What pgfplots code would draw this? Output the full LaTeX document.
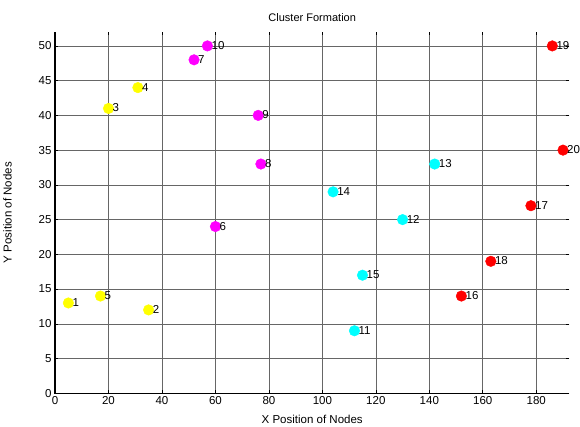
\documentclass[border=0pt]{standalone}
\usepackage{pgfplots}
\pgfplotsset{compat=1.18}
\usepackage{pgfplotstable}
\usepackage{fontspec}
\setmainfont{Liberation Sans}
\definecolor{cY}{RGB}{255,255,0}
\definecolor{cM}{RGB}{255,0,255}
\definecolor{cC}{RGB}{0,255,255}
\definecolor{cR}{RGB}{255,0,0}
\pgfplotstableread{
x y n
5 13 1
35 12 2
20 41 3
31 44 4
17 14 5
}\clA
\pgfplotstableread{
x y n
60 24 6
52 48 7
77 33 8
76 40 9
57 50 10
}\clB
\pgfplotstableread{
x y n
112 9 11
130 25 12
142 33 13
104 29 14
115 17 15
}\clC
\pgfplotstableread{
x y n
152 14 16
178 27 17
163 19 18
186 50 19
190 35 20
}\clD
\begin{document}
\begin{tikzpicture}
\begin{axis}[
  scale only axis,
  width=514pt, height=361pt,
  xmin=0, xmax=192.4, ymin=0, ymax=52,
  xtick={0,20,...,180}, ytick={0,5,...,50},
  tick pos=both, tick align=inside,
  major tick length=3pt,
  tick style={black, line width=0.6pt},
  grid=major,
  major grid style={black!60, line width=0.6pt},
  axis line style={draw=none},
  ticklabel style={font=\fontsize{11.5}{13}\selectfont},
  /pgf/number format/assume math mode=true,
  title={Cluster Formation},
  title style={font=\fontsize{11}{13}\selectfont, yshift=1pt},
  xlabel={X Position of Nodes},
  ylabel={Y Position of Nodes},
  label style={font=\fontsize{11.5}{13}\selectfont},
  xlabel style={yshift=-3pt},
  ylabel style={yshift=20pt},
  only marks,
  mark=*,
  mark size=5.3pt,
  point meta=explicit symbolic,
  nodes near coords,
  nodes near coords style={anchor=west, font=\fontsize{11.5}{13}\selectfont, inner sep=0pt, xshift=4pt, yshift=0.5pt, text=black},
  clip=false,
]
\addplot[mark=*, color=cY] table[x=x, y=y, meta=n] {\clA};
\addplot[mark=*, color=cM] table[x=x, y=y, meta=n] {\clB};
\addplot[mark=*, color=cC] table[x=x, y=y, meta=n] {\clC};
\addplot[mark=*, color=cR] table[x=x, y=y, meta=n] {\clD};
\draw[black, line width=1.2pt] (rel axis cs:0,1) -- (rel axis cs:0,0) -- (rel axis cs:1,0);
\path (rel axis cs:0,1) ++(0pt,32pt);
\end{axis}
\end{tikzpicture}
\end{document}
